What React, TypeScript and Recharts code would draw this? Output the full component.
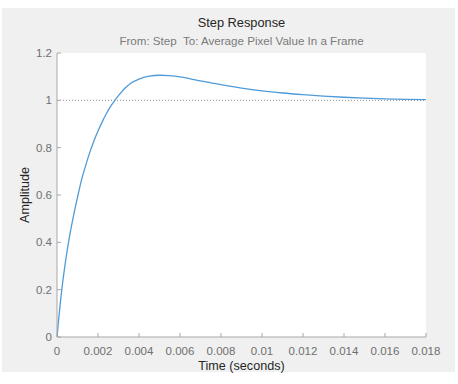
import { LineChart, Line, XAxis, YAxis, CartesianGrid, ReferenceLine } from "recharts";

// step response samples
const times = [
  0, 0.0002, 0.0004, 0.0006, 0.0008, 0.001, 0.0012, 0.0014, 0.0016, 0.0018,
  0.002, 0.0022, 0.0024, 0.0026, 0.0028, 0.003, 0.0033, 0.0036, 0.004, 0.0045,
  0.005, 0.0055, 0.006, 0.0065, 0.007, 0.0075, 0.008, 0.0085, 0.009, 0.01,
  0.011, 0.012, 0.013, 0.014, 0.015, 0.016, 0.017, 0.018,
];
const amplitude = [
  0, 0.175, 0.31, 0.42, 0.51, 0.59, 0.665, 0.725, 0.78, 0.828,
  0.87, 0.908, 0.942, 0.972, 0.998, 1.02, 1.05, 1.072, 1.09, 1.102,
  1.106, 1.104, 1.099, 1.091, 1.082, 1.074, 1.066, 1.059, 1.052, 1.04,
  1.031, 1.024, 1.018, 1.013, 1.009, 1.006, 1.004, 1.003,
];
const xTicks = [0, 0.002, 0.004, 0.006, 0.008, 0.01, 0.012, 0.014, 0.016, 0.018];
const yTicks = [0, 0.2, 0.4, 0.6, 0.8, 1, 1.2];
const xTickLabels = ["0", "0.002", "0.004", "0.006", "0.008", "0.01", "0.012", "0.014", "0.016", "0.018"];
const yTickLabels = ["0", "0.2", "0.4", "0.6", "0.8", "1", "1.2"];

const data = times.map((t, i) => ({ t, y: amplitude[i] }));

const FONT = "'Liberation Sans', Arial, sans-serif";
const AXIS = "#a8a8a8";
const LABEL = "#6f6f6f";
const TICK_LEN = 4;

const BottomTick = (props: any) => {
  const { x, y, index } = props;
  return (
    <g>
      <line x1={x} y1={y} x2={x} y2={y - TICK_LEN} stroke={AXIS} />
      <text x={x} y={y + 18} textAnchor="middle" fontSize={11.5} fill={LABEL} fontFamily={FONT}>
        {xTickLabels[index]}
      </text>
    </g>
  );
};

const TopTick = (props: any) => {
  const { x, y } = props;
  return <line x1={x} y1={y} x2={x} y2={y + TICK_LEN} stroke={AXIS} />;
};

const LeftTick = (props: any) => {
  const { x, y, index } = props;
  return (
    <g>
      <line x1={x} y1={y} x2={x + TICK_LEN} y2={y} stroke={AXIS} />
      <text x={x - 5} y={y + 4} textAnchor="end" fontSize={11.5} fill={LABEL} fontFamily={FONT}>
        {yTickLabels[index]}
      </text>
    </g>
  );
};

const RightTick = (props: any) => {
  const { x, y } = props;
  return <line x1={x} y1={y} x2={x - TICK_LEN} y2={y} stroke={AXIS} />;
};

export default function App() {
  return (
    <div style={{ position: "absolute", left: 0, top: 0, width: 458, height: 384, background: "#fff" }}>
      <div style={{ position: "absolute", left: 2, top: 8, width: 453, height: 364, background: "#f0f0f0" }} />
      <div style={{ position: "absolute", left: 0, top: 0 }}>
        <LineChart width={458} height={384} data={data} margin={{ top: 53, right: 32, left: 0, bottom: 0 }}>
          <CartesianGrid horizontal={false} vertical={false} fill="#ffffff" xAxisId="bottom" yAxisId="left" />
          <XAxis
            xAxisId="bottom"
            dataKey="t"
            type="number"
            domain={[0, 0.018]}
            ticks={xTicks}
            interval={0}
            height={47}
            tickSize={0}
            tickMargin={0}
            tickLine={false}
            tick={<BottomTick />}
            axisLine={{ stroke: AXIS }}
            allowDataOverflow
          />
          <XAxis
            xAxisId="top"
            orientation="top"
            dataKey="t"
            type="number"
            domain={[0, 0.018]}
            ticks={xTicks}
            interval={0}
            height={0}
            tickSize={0}
            tickMargin={0}
            tickLine={false}
            tick={<TopTick />}
            axisLine={{ stroke: AXIS }}
            allowDataOverflow
          />
          <YAxis
            yAxisId="left"
            type="number"
            domain={[0, 1.2]}
            ticks={yTicks}
            interval={0}
            width={57}
            tickSize={0}
            tickMargin={0}
            tickLine={false}
            tick={<LeftTick />}
            axisLine={{ stroke: AXIS }}
            allowDataOverflow
          />
          <YAxis
            yAxisId="right"
            orientation="right"
            type="number"
            domain={[0, 1.2]}
            ticks={yTicks}
            interval={0}
            width={0}
            tickSize={0}
            tickMargin={0}
            tickLine={false}
            tick={<RightTick />}
            axisLine={{ stroke: AXIS }}
            allowDataOverflow
          />
          <ReferenceLine xAxisId="bottom" yAxisId="left" y={1} stroke="#8a8a8a" strokeDasharray="1 2" />
          <Line
            xAxisId="bottom"
            yAxisId="left"
            dataKey="y"
            type="monotone"
            stroke="#4f9bd9"
            strokeWidth={1.3}
            dot={false}
            isAnimationActive={false}
          />
        </LineChart>
      </div>
      <svg width={458} height={384} style={{ position: "absolute", left: 0, top: 0, pointerEvents: "none" }}>
        <text x={241.5} y={27} textAnchor="middle" fontSize={12.8} fill="#262626" fontFamily={FONT}>
          Step Response
        </text>
        <text x={241.5} y={45} textAnchor="middle" fontSize={11.6} fill="#7a7a7a" fontFamily={FONT} style={{ whiteSpace: "pre" }}>
          From: Step  To: Average Pixel Value In a Frame
        </text>
        <text x={241.5} y={370} textAnchor="middle" fontSize={12.6} fill="#262626" fontFamily={FONT}>
          Time (seconds)
        </text>
        <text
          x={25}
          y={195}
          textAnchor="middle"
          fontSize={12.6}
          fill="#262626"
          fontFamily={FONT}
          transform="rotate(-90 25 195)"
          dominantBaseline="central"
        >
          Amplitude
        </text>
      </svg>
    </div>
  );
}
